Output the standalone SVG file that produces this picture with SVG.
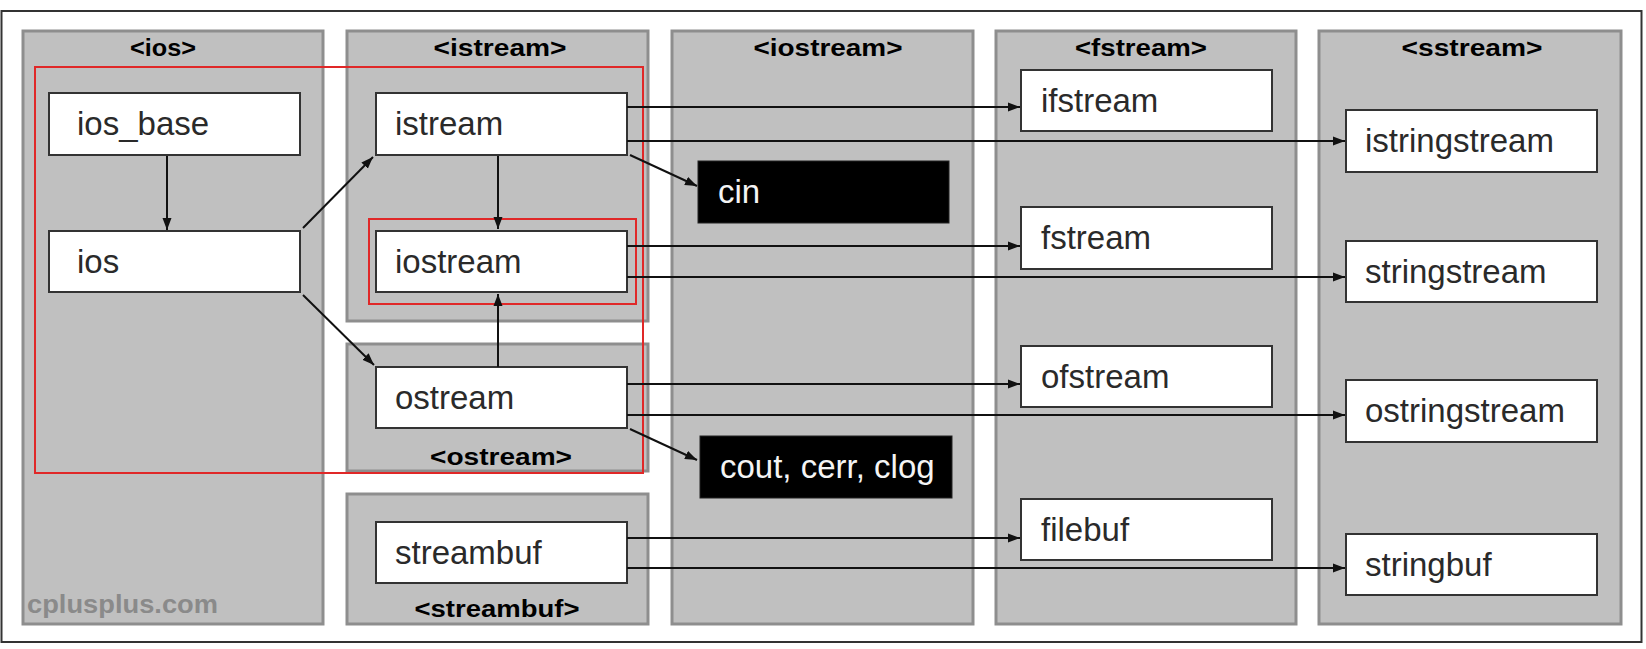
<svg xmlns="http://www.w3.org/2000/svg" width="1646" height="649" viewBox="0 0 1646 649">
<style>
.panel{fill:#c0c0c0;stroke:#8e8e8e;stroke-width:3}
.title{font-family:"Liberation Sans",Arial,sans-serif;font-weight:bold;font-size:23px;fill:#000;text-anchor:middle}
.box{fill:#fff;stroke:#333;stroke-width:2}
.obj{fill:#000;stroke:#222;stroke-width:1}
.lbl{font-family:"Liberation Sans",Arial,sans-serif;font-size:33px;fill:#2a2a2a}
.wlbl{font-family:"Liberation Sans",Arial,sans-serif;font-size:33px;fill:#f4f4f4}
.red{fill:none;stroke:#e02828;stroke-width:2}
.conn line{stroke:#111;stroke-width:2;marker-end:url(#ah)}
</style>
<defs>
<marker id="ah" markerUnits="userSpaceOnUse" markerWidth="13" markerHeight="10" refX="12" refY="5" orient="auto">
<path d="M0,0.5 L12,5 L0,9.5 Z" fill="#111"/>
</marker>
</defs>
<rect x="0" y="0" width="1646" height="649" fill="#fff"/>
<rect x="1.5" y="11" width="1640" height="631" fill="none" stroke="#333" stroke-width="2"/>

<g id="panel-ios"><rect class="panel" x="23" y="31" width="300" height="593"/><text class="title" x="163" y="56" textLength="66" lengthAdjust="spacingAndGlyphs">&lt;ios&gt;</text>
<text x="27" y="613" font-family="Liberation Sans,Arial,sans-serif" font-weight="bold" font-size="26" fill="#8a8a8a" textLength="191" lengthAdjust="spacingAndGlyphs">cplusplus.com</text></g>
<g id="panel-istream"><rect class="panel" x="347" y="31" width="301" height="290"/><text class="title" x="500" y="56" textLength="133" lengthAdjust="spacingAndGlyphs">&lt;istream&gt;</text></g>
<g id="panel-ostream"><rect class="panel" x="347" y="344" width="301" height="127"/><text class="title" x="501" y="465" textLength="142" lengthAdjust="spacingAndGlyphs">&lt;ostream&gt;</text></g>
<g id="panel-streambuf"><rect class="panel" x="347" y="494" width="301" height="130"/><text class="title" x="497" y="617" textLength="165" lengthAdjust="spacingAndGlyphs">&lt;streambuf&gt;</text></g>
<g id="panel-iostream"><rect class="panel" x="672" y="31" width="301" height="593"/><text class="title" x="828" y="56" textLength="149" lengthAdjust="spacingAndGlyphs">&lt;iostream&gt;</text></g>
<g id="panel-fstream"><rect class="panel" x="996" y="31" width="300" height="593"/><text class="title" x="1141" y="56" textLength="132" lengthAdjust="spacingAndGlyphs">&lt;fstream&gt;</text></g>
<g id="panel-sstream"><rect class="panel" x="1319" y="31" width="302" height="593"/><text class="title" x="1472" y="56" textLength="141" lengthAdjust="spacingAndGlyphs">&lt;sstream&gt;</text></g>

<g id="ios_base"><rect class="box" x="49" y="93" width="251" height="62"/><text class="lbl" x="77" y="135">ios_base</text></g>
<g id="ios"><rect class="box" x="49" y="231" width="251" height="61"/><text class="lbl" x="77" y="273">ios</text></g>
<g id="istream"><rect class="box" x="376" y="93" width="251" height="62"/><text class="lbl" x="395" y="135">istream</text></g>
<g id="iostream"><rect class="box" x="376" y="231" width="251" height="61"/><text class="lbl" x="395" y="273">iostream</text></g>
<g id="ostream"><rect class="box" x="376" y="367" width="251" height="61"/><text class="lbl" x="395" y="409">ostream</text></g>
<g id="streambuf"><rect class="box" x="376" y="522" width="251" height="61"/><text class="lbl" x="395" y="564">streambuf</text></g>
<g id="cin"><rect class="obj" x="698" y="161" width="251" height="62"/><text class="wlbl" x="718" y="203">cin</text></g>
<g id="cout"><rect class="obj" x="700" y="436" width="252" height="62"/><text class="wlbl" x="720" y="478">cout, cerr, clog</text></g>
<g id="ifstream"><rect class="box" x="1021" y="70" width="251" height="61"/><text class="lbl" x="1041" y="112">ifstream</text></g>
<g id="fstream"><rect class="box" x="1021" y="207" width="251" height="62"/><text class="lbl" x="1041" y="249">fstream</text></g>
<g id="ofstream"><rect class="box" x="1021" y="346" width="251" height="61"/><text class="lbl" x="1041" y="388">ofstream</text></g>
<g id="filebuf"><rect class="box" x="1021" y="499" width="251" height="61"/><text class="lbl" x="1041" y="541">filebuf</text></g>
<g id="istringstream"><rect class="box" x="1346" y="110" width="251" height="62"/><text class="lbl" x="1365" y="152">istringstream</text></g>
<g id="stringstream"><rect class="box" x="1346" y="241" width="251" height="61"/><text class="lbl" x="1365" y="283">stringstream</text></g>
<g id="ostringstream"><rect class="box" x="1346" y="380" width="251" height="62"/><text class="lbl" x="1365" y="422">ostringstream</text></g>
<g id="stringbuf"><rect class="box" x="1346" y="534" width="251" height="61"/><text class="lbl" x="1365" y="576">stringbuf</text></g>

<g id="highlights">
<rect class="red" x="35" y="67" width="608" height="406"/>
<rect class="red" x="369" y="219" width="267" height="85"/>
</g>

<g id="connectors" class="conn">
<line x1="167" y1="156" x2="167" y2="230"/>
<line x1="303" y1="228" x2="373" y2="157"/>
<line x1="303" y1="295" x2="374" y2="365"/>
<line x1="498" y1="156" x2="498" y2="229"/>
<line x1="498" y1="367" x2="498" y2="294"/>
<line x1="630" y1="155" x2="697" y2="186"/>
<line x1="630" y1="429" x2="697" y2="460"/>
<line x1="627" y1="107" x2="1020" y2="107"/>
<line x1="627" y1="141" x2="1345" y2="141"/>
<line x1="627" y1="246" x2="1020" y2="246"/>
<line x1="627" y1="277" x2="1345" y2="277"/>
<line x1="627" y1="384" x2="1020" y2="384"/>
<line x1="627" y1="415" x2="1345" y2="415"/>
<line x1="627" y1="538" x2="1020" y2="538"/>
<line x1="627" y1="568" x2="1345" y2="568"/>
</g>
</svg>
